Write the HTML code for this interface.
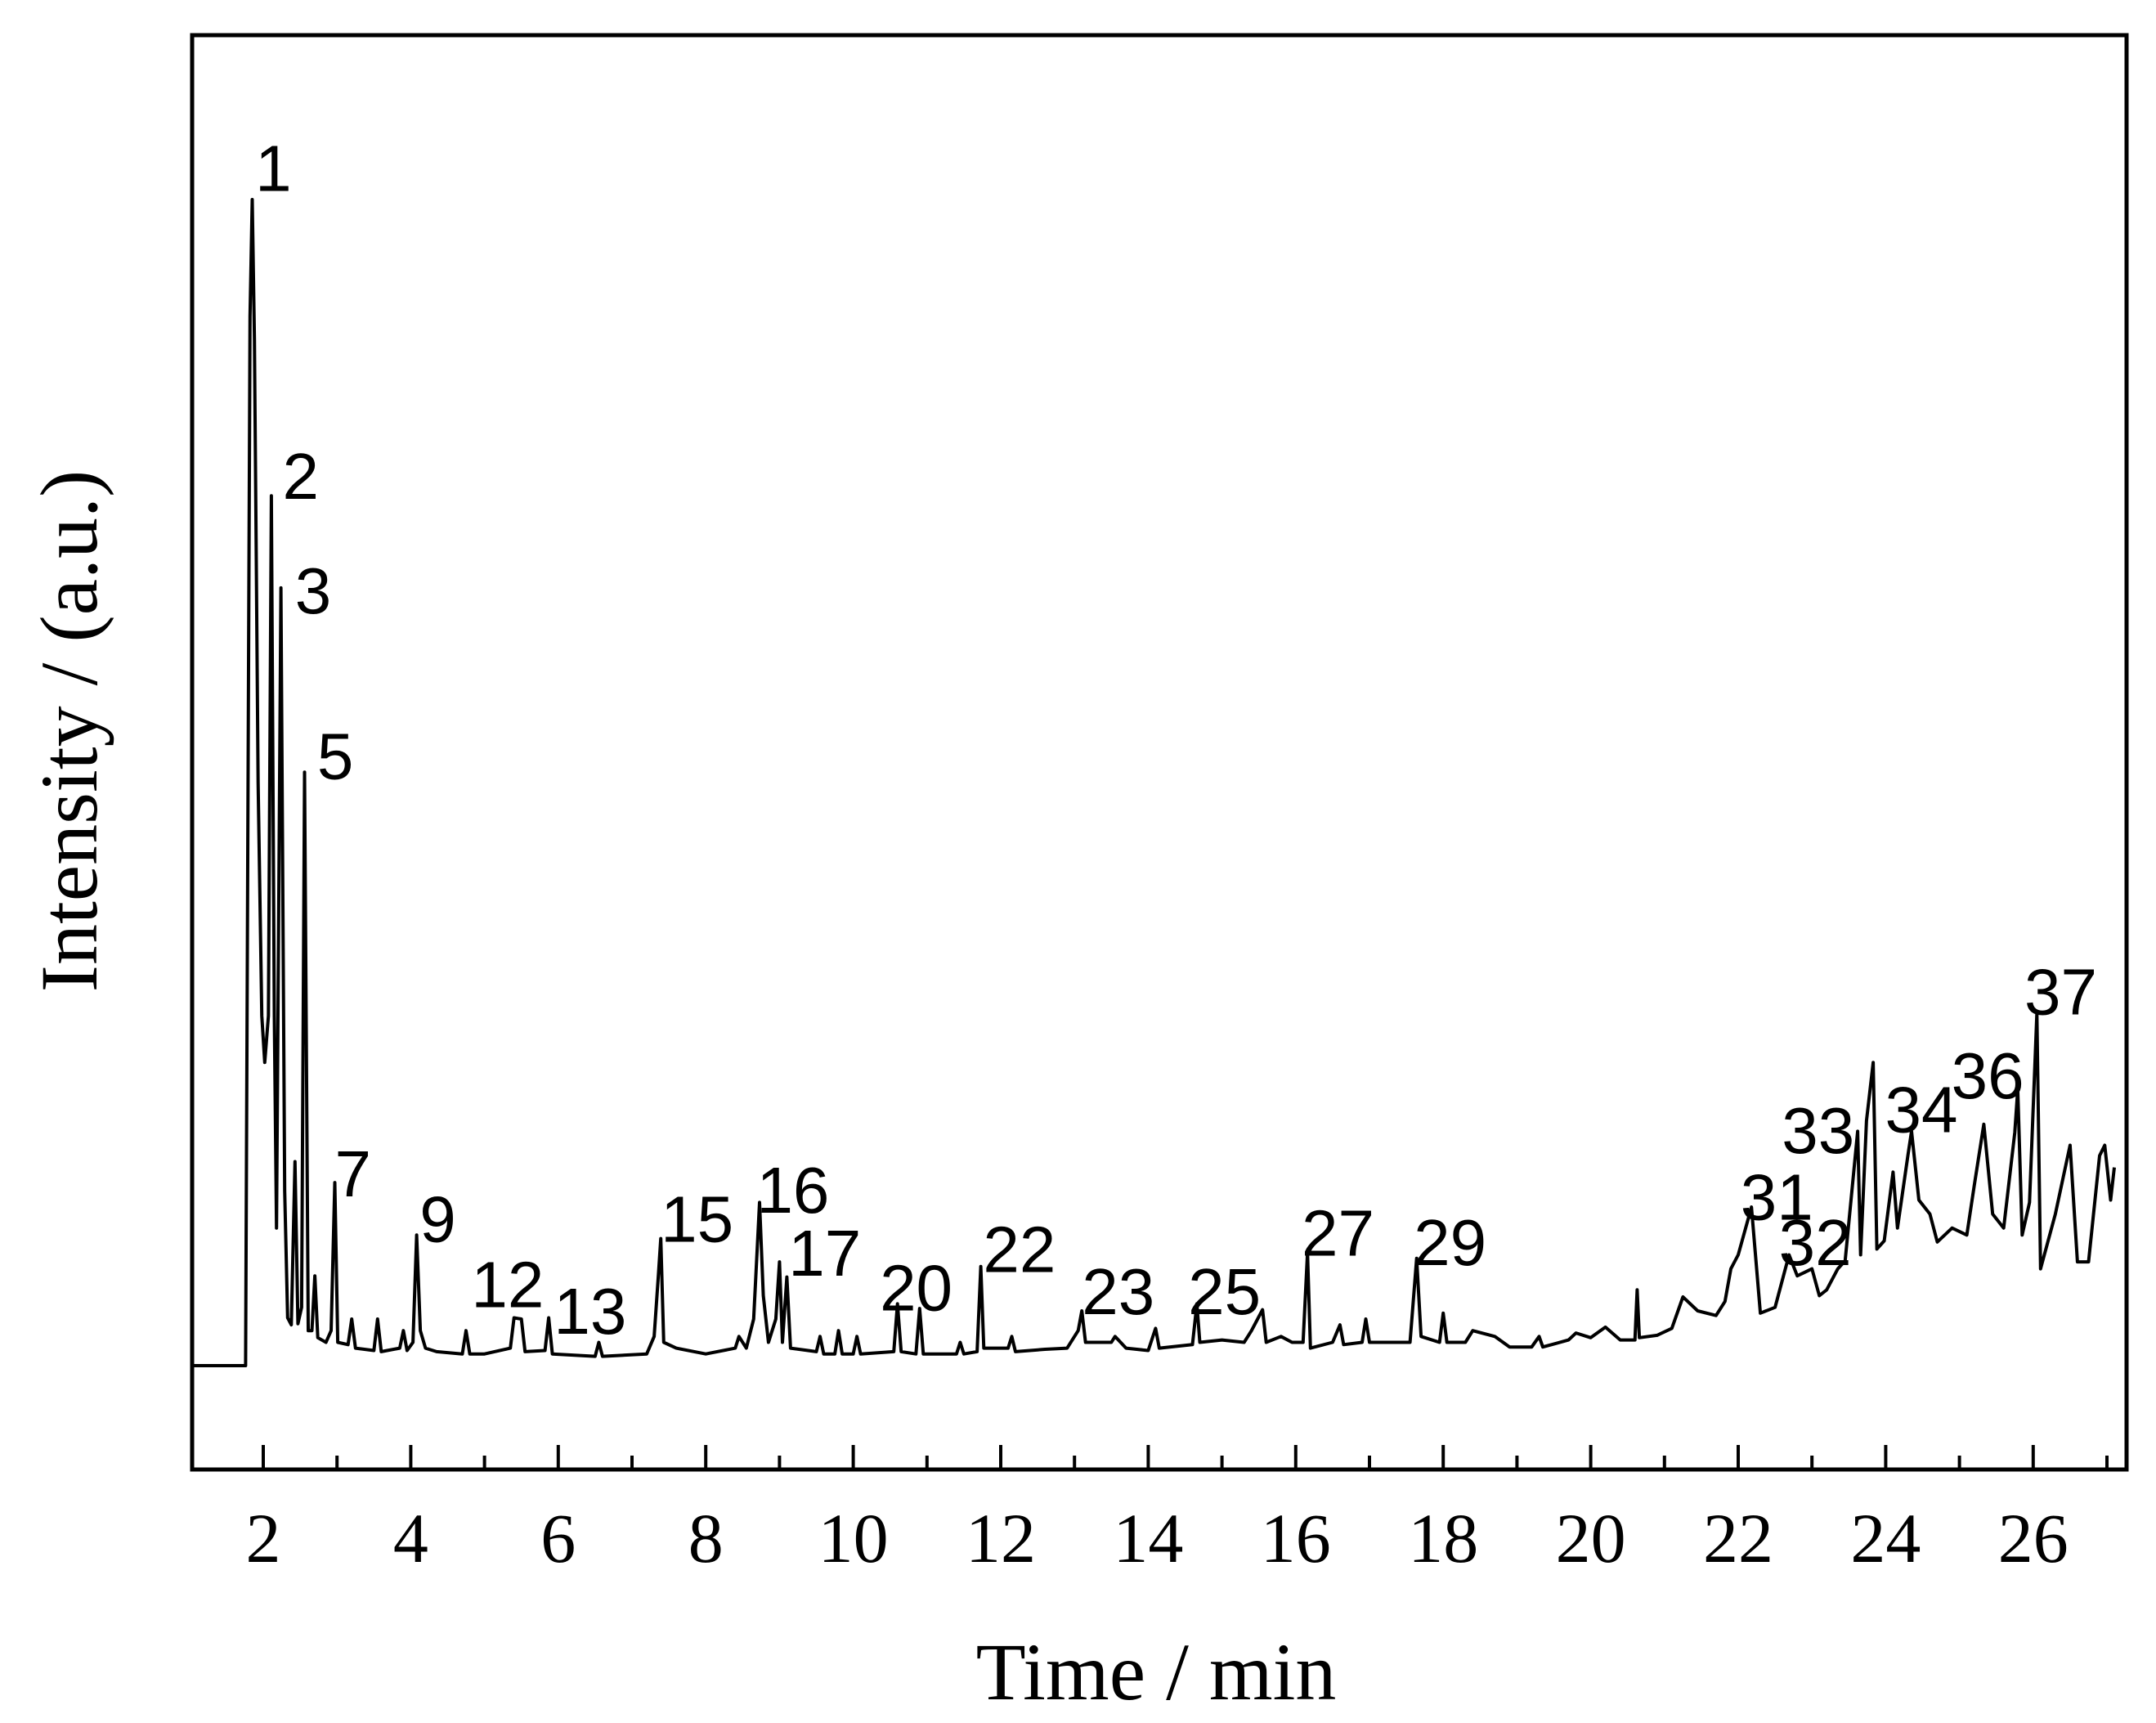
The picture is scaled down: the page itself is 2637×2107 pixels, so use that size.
<!DOCTYPE html>
<html><head><meta charset="utf-8"><style>html,body{margin:0;padding:0;background:#fff}svg{display:block}</style></head>
<body>
<svg id="chart" width="2637" height="2107" viewBox="0 0 2637 2107" xmlns="http://www.w3.org/2000/svg">
<rect x="0" y="0" width="2637" height="2107" fill="#fff"/>
<g id="plot"></g>
<rect x="235" y="43" width="2366" height="1754" fill="none" stroke="#000" stroke-width="5"/>
<text x="1414" y="2078" font-family="Liberation Serif, serif" font-size="100" text-anchor="middle">Time / min</text>
<text transform="translate(118,894) rotate(-90)" font-family="Liberation Serif, serif" font-size="100" text-anchor="middle">Intensity / (a.u.)</text>
</svg>
<script>
const xTicks = [2,4,6,8,10,12,14,16,18,20,22,24,26];
const xMinor = [3,5,7,9,11,13,15,17,19,21,23,25,27];
const traceTime = [1.03,1.76,1.79,1.82,1.85,1.88,1.93,1.98,2.02,2.07,2.11,2.15,2.18,2.24,2.29,2.33,2.38,2.43,2.47,2.52,2.56,2.61,2.66,2.70,2.74,2.85,2.92,2.97,3.01,3.15,3.2,3.25,3.5,3.55,3.6,3.85,3.9,3.95,4.03,4.08,4.13,4.2,4.35,4.7,4.75,4.8,5.0,5.35,5.4,5.5,5.55,5.82,5.87,5.92,6.5,6.55,6.6,7.2,7.3,7.36,7.39,7.43,7.6,8.0,8.4,8.45,8.55,8.65,8.73,8.78,8.85,8.95,9.0,9.04,9.1,9.15,9.5,9.55,9.6,9.75,9.8,9.85,10.0,10.05,10.1,10.55,10.6,10.65,10.85,10.9,10.95,11.4,11.45,11.5,11.68,11.73,11.77,12.1,12.15,12.2,12.6,12.9,13.05,13.1,13.15,13.5,13.55,13.7,14.0,14.1,14.15,14.6,14.66,14.7,15.0,15.3,15.4,15.55,15.6,15.8,15.95,16.1,16.16,16.2,16.5,16.6,16.65,16.9,16.95,17.0,17.55,17.64,17.7,17.95,18.0,18.05,18.3,18.4,18.7,18.9,19.2,19.3,19.35,19.7,19.8,20.0,20.2,20.4,20.6,20.63,20.66,20.9,21.1,21.25,21.45,21.7,21.82,21.9,22.0,22.18,22.3,22.5,22.69,22.8,22.9,23.0,23.1,23.2,23.35,23.45,23.62,23.66,23.74,23.83,23.88,23.98,24.1,24.16,24.3,24.35,24.45,24.6,24.7,24.9,25.1,25.2,25.33,25.45,25.6,25.75,25.79,25.85,25.95,26.05,26.1,26.3,26.5,26.6,26.75,26.9,26.97,27.05,27.1];
const traceIntensity = [0,0,45,90,100,88,50,30,26,30,74.6,30,11.8,66.7,15,4.1,3.5,17.5,3.6,5,50.9,3,3,7.7,2.4,2,3,15.7,2,1.8,4,1.5,1.3,4,1.2,1.5,3,1.3,2,11.2,3,1.5,1.2,1.0,3,1,1,1.5,4.1,4,1.2,1.3,4.1,1,0.8,2,0.8,1,2.5,8,10.9,2,1.5,1,1.5,2.5,1.5,4,14,6,2,4,8.9,2,7.6,1.5,1.2,2.5,1,1,3,1,1,2.5,1,1.2,5.3,1.2,1,4.9,1,1,2,1,1.2,8.5,1.5,1.5,2.5,1.2,1.4,1.5,3,4.7,2,2,2.5,1.5,1.3,3.2,1.5,1.8,5.3,2,2.2,2,3,4.8,2,2.5,2,2,9.7,1.5,2,3.5,1.8,2,4,2,2,9.2,2.5,2,4.5,2,2,3,2.5,1.6,1.6,2.5,1.6,2.2,2.8,2.4,3.3,2.2,2.2,6.5,2.4,2.6,3.2,5.9,4.7,4.3,5.5,8.3,9.5,13.6,4.5,5,9.5,7.7,8,8.3,6,6.5,8.3,9,20.1,9.5,21,26,10,10.7,16.6,11.8,18,20.1,14.2,13,10.6,11.8,11.2,15.4,20.7,13,11.8,20,23.7,11.2,14,30.2,8.3,13,18.9,8.9,8.9,18,18.9,14.2,17];
const peakLabels = ["1","2","3","5","7","9","12","13","15","16","17","20","22","23","25","27","29","31","32","33","34","36","37"];
const peakLabelTime = [1.89,2.26,2.43,2.73,2.97,4.12,4.82,5.94,7.39,8.69,9.12,10.36,11.76,13.1,14.54,16.08,17.6,22.03,22.55,22.59,23.99,24.89,25.88];
const peakLabelIntensity = [101,74.6,64.8,50.6,14.8,10.9,5.3,3.0,10.9,13.4,8.0,5.0,8.3,4.7,4.7,9.7,8.9,12.8,8.9,18.5,20.3,23.2,30.4];

const NS = "http://www.w3.org/2000/svg";
const X0 = 322, XU = 90.2, Y0 = 1670, YU = 14.26, AXB = 1797;
function xs(t){ return X0 + (t - 2) * XU; }
function ys(v){ return Y0 - v * YU; }
const plot = document.getElementById('plot');

let d = "";
for (let i = 0; i < traceTime.length; i++) {
  d += (i ? "L" : "M") + xs(traceTime[i]).toFixed(1) + "," + ys(traceIntensity[i]).toFixed(1);
}
const path = document.createElementNS(NS, 'path');
path.setAttribute('d', d);
path.setAttribute('fill', 'none');
path.setAttribute('stroke', '#000');
path.setAttribute('stroke-width', '4');
path.setAttribute('stroke-linejoin', 'round');


plot.appendChild(path);

xTicks.forEach(function(t){
  const ln = document.createElementNS(NS, 'line');
  ln.setAttribute('x1', xs(t)); ln.setAttribute('x2', xs(t));
  ln.setAttribute('y1', AXB); ln.setAttribute('y2', AXB - 30);
  ln.setAttribute('stroke', '#000'); ln.setAttribute('stroke-width', '4');
  
  
  plot.appendChild(ln);
  const tx = document.createElementNS(NS, 'text');
  tx.setAttribute('x', xs(t)); tx.setAttribute('y', 1910);
  tx.setAttribute('text-anchor', 'middle');
  tx.setAttribute('font-family', 'Liberation Serif, serif');
  tx.setAttribute('font-size', '86');
  tx.textContent = t;
  
  
  plot.appendChild(tx);
});
xMinor.forEach(function(t){
  const ln = document.createElementNS(NS, 'line');
  ln.setAttribute('x1', xs(t)); ln.setAttribute('x2', xs(t));
  ln.setAttribute('y1', AXB); ln.setAttribute('y2', AXB - 17);
  ln.setAttribute('stroke', '#000'); ln.setAttribute('stroke-width', '4');
  
  
  plot.appendChild(ln);
});
peakLabels.forEach(function(lab, i){
  const tx = document.createElementNS(NS, 'text');
  tx.setAttribute('x', xs(peakLabelTime[i]));
  tx.setAttribute('y', ys(peakLabelIntensity[i]) + 4);
  tx.setAttribute('font-family', 'Liberation Sans, sans-serif');
  tx.setAttribute('font-size', '80');
  tx.textContent = lab;
  
  
  plot.appendChild(tx);
});
</script>
</body></html>
